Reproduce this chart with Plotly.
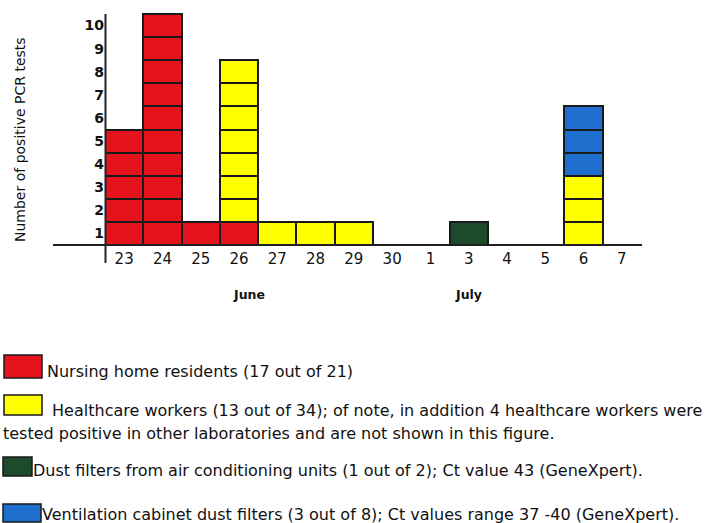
import plotly.graph_objects as go

# ---- data ----
days = ["23", "24", "25", "26", "27", "28", "29", "30", "1", "3", "4", "5", "6", "7"]
nursing_home = [5, 10, 1, 1, 0, 0, 0, 0, 0, 0, 0, 0, 0, 0]
healthcare = [0, 0, 0, 7, 1, 1, 1, 0, 0, 0, 0, 0, 3, 0]
dust_ac = [0, 0, 0, 0, 0, 0, 0, 0, 0, 1, 0, 0, 0, 0]
ventilation = [0, 0, 0, 0, 0, 0, 0, 0, 0, 0, 0, 0, 3, 0]
y_ticks = [1, 2, 3, 4, 5, 6, 7, 8, 9, 10]

series = [
    ("Nursing home residents (17 out of 21)", nursing_home, "#e5141c"),
    ("Healthcare workers (13 out of 34)", healthcare, "#ffff00"),
    ("Dust filters from air conditioning units (1 out of 2)", dust_ac, "#1d4a2a"),
    ("Ventilation cabinet dust filters (3 out of 8)", ventilation, "#1f6fcf"),
]

legend_texts = [
    "Nursing home residents (17 out of 21)",
    " Healthcare workers (13 out of 34); of note, in addition 4 healthcare workers were",
    "Dust filters from air conditioning units (1 out of 2); Ct value 43 (GeneXpert).",
    "Ventilation cabinet dust filters (3 out of 8); Ct values range 37 -40 (GeneXpert).",
]
legend_extra = "tested positive in other laboratories and are not shown in this figure."
month_labels = [("June", 3.25), ("July", 9.0)]

W, H = 711, 523
L, R, T, B = 105, 70, 10, 278
PW, PH = W - L - R, H - T - B


def px(x):
    return (x - L) / PW


def py(y):
    return (H - B - y) / PH


fig = go.Figure()
cum = [0] * len(days)
for name, vals, color in series:
    xs, bases = [], []
    for i, v in enumerate(vals):
        for k in range(v):
            xs.append(days[i])
            bases.append(cum[i] + k)
        cum[i] += v
    fig.add_trace(go.Bar(
        x=xs, y=[1] * len(xs), base=bases, name=name,
        marker=dict(color=color, line=dict(color="#1a1a1a", width=2)),
        showlegend=False, hoverinfo="skip",
    ))

FONT = "DejaVu Sans"
fig.update_layout(
    width=W, height=H,
    margin=dict(l=L, r=R, t=T, b=B),
    plot_bgcolor="white", paper_bgcolor="white",
    barmode="overlay", bargap=0,
    font=dict(family=FONT, color="#111"),
    xaxis=dict(type="category", categoryorder="array", categoryarray=days,
               range=[-0.5, 13.5], showgrid=False, zeroline=False, showline=False,
               ticks="", ticklabelstandoff=3,
               tickfont=dict(size=15, family=FONT, color="#111")),
    yaxis=dict(range=[0, PH / 23.1], showgrid=False, zeroline=False, showline=False,
               tickvals=[v - 0.5 for v in y_ticks], ticktext=[f"<b>{v}</b>" for v in y_ticks],
               ticks="", tickfont=dict(size=14, family=FONT, color="#111")),
)

# axis lines
fig.add_shape(type="line", xref="paper", yref="paper", x0=px(105.5), x1=px(105.5),
              y0=py(14), y1=py(263), line=dict(color="#222", width=2))
fig.add_shape(type="line", xref="paper", yref="paper", x0=px(53), x1=px(642),
              y0=py(245), y1=py(245), line=dict(color="#222", width=2))

# y axis title
fig.add_annotation(text="Number of positive PCR tests", xref="paper", yref="paper",
                   x=px(20), y=py(139), textangle=-90, showarrow=False,
                   font=dict(size=14, family=FONT, color="#111"),
                   xanchor="center", yanchor="middle")

# month labels
for lab, xpos in month_labels:
    fig.add_annotation(text=f"<b>{lab}</b>", xref="x", yref="paper", x=xpos, y=py(294),
                       showarrow=False, font=dict(size=12.5, family=FONT, color="#111"),
                       xanchor="center", yanchor="middle")

# custom legend
boxes = [(4, 42, 355, 378), (4, 42, 395, 415), (3, 32, 457, 476), (3, 41, 504, 522)]
text_pos = [(45, 371), (45, 410), (31, 470), (40, 514)]
for (name, vals, color), (x0, x1, y0, y1), (tx, ty), txt in zip(series, boxes, text_pos, legend_texts):
    fig.add_shape(type="rect", xref="paper", yref="paper", x0=px(x0), x1=px(x1),
                  y0=py(y0), y1=py(y1), fillcolor=color, line=dict(color="#1a1a1a", width=1.5))
    fig.add_annotation(text=txt, xref="paper", yref="paper", x=px(tx), y=py(ty),
                       showarrow=False, xanchor="left", yanchor="middle",
                       font=dict(size=16, family=FONT, color="#111"))
fig.add_annotation(text=legend_extra, xref="paper", yref="paper", x=px(1), y=py(433),
                   showarrow=False, xanchor="left", yanchor="middle",
                   font=dict(size=16, family=FONT, color="#111"))

fig.write_html("out.html", config={"displayModeBar": False},
               post_script="document.body.style.margin='0px';document.body.style.overflow='hidden';")
